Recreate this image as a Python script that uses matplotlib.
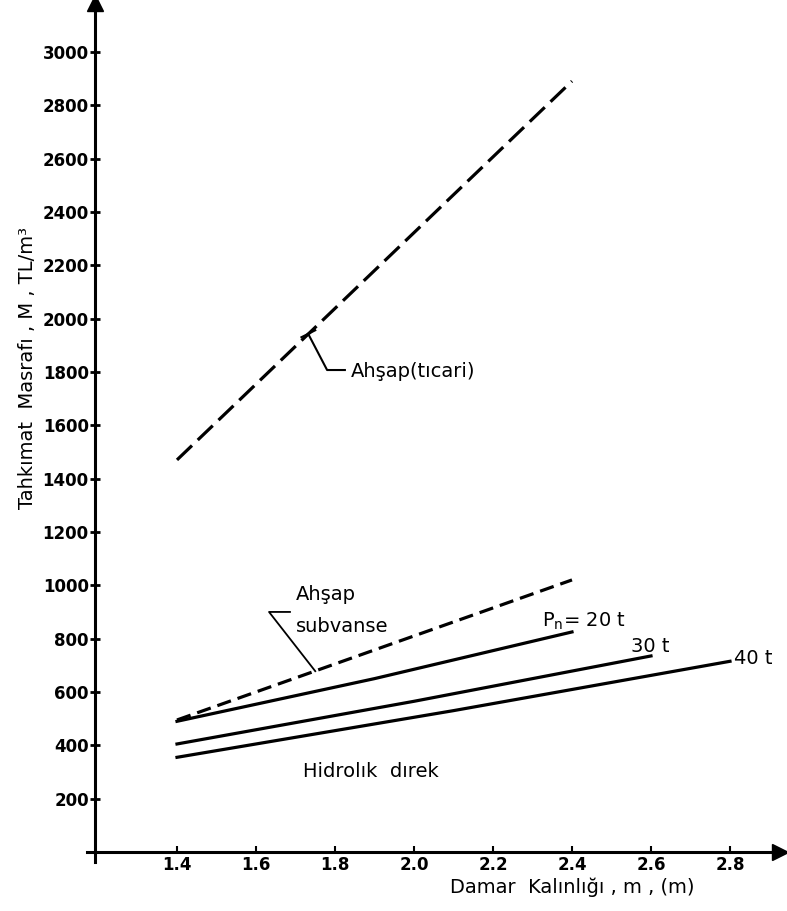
import matplotlib.pyplot as plt

# values (damar kalinligi m vs tahkimat masrafi TL/m3)
x_ticari = [1.4, 2.4]
y_ticari = [1470, 2890]
x_subvanse = [1.4, 2.4]
y_subvanse = [495, 1020]
x_20t = [1.4, 1.9, 2.4]
y_20t = [490, 650, 825]
x_30t = [1.4, 2.0, 2.6]
y_30t = [405, 565, 735]
x_40t = [1.4, 2.1, 2.8]
y_40t = [355, 530, 715]

xticks = [1.4, 1.6, 1.8, 2.0, 2.2, 2.4, 2.6, 2.8]
xticklabels = ["1.4", "1.6", "1.8", "2.0", "2.2", "2.4", "2.6", "2.8"]
yticks = list(range(200, 3001, 200))

plt.rcParams['font.family'] = ['DejaVu Sans']
W, H = 787, 911
fig = plt.figure(figsize=(W / 100, H / 100), dpi=100)
ax = fig.add_axes([95 / W, 59 / H, (780 - 95) / W, (852 - 3) / H])
ax.set_xlim(1.1924, 2.9266)
ax.set_ylim(0, 3183)

for s in ['top', 'right']:
    ax.spines[s].set_visible(False)
for s in ['left', 'bottom']:
    ax.spines[s].set_linewidth(2.2)

# arrow heads and the little cross at the origin
ax.plot([1], [0], marker='>', ms=11, color='k', transform=ax.transAxes, clip_on=False)
ax.plot([0], [1], marker='^', ms=11, color='k', transform=ax.transAxes, clip_on=False)
ax.plot([-0.012, 0], [0, 0], color='k', lw=2.2, transform=ax.transAxes, clip_on=False)
ax.plot([0, 0], [-0.012, 0], color='k', lw=2.2, transform=ax.transAxes, clip_on=False)

ax.set_xticks(xticks)
ax.set_xticklabels(xticklabels, fontsize=12, weight='bold')
ax.set_yticks(yticks)
ax.set_yticklabels([str(v) for v in yticks], fontsize=12, weight='bold')
ax.tick_params(axis='y', direction='inout', length=7, width=2, pad=1)
ax.tick_params(axis='x', direction='in', length=4, width=1.5, pad=3)

lw = 2.3
ax.plot(x_ticari, y_ticari, color='k', lw=lw, linestyle=(0, (6.5, 2.5)))
ax.plot(x_subvanse, y_subvanse, color='k', lw=lw, linestyle=(0, (4.5, 2.2)))
ax.plot(x_20t, y_20t, color='k', lw=lw)
ax.plot(x_30t, y_30t, color='k', lw=lw)
ax.plot(x_40t, y_40t, color='k', lw=lw)

fs = 14
# labels and leaders
ax.plot([1.732, 1.78, 1.825], [1943, 1807, 1807], color='k', lw=1.5)
ax.plot([1.715, 1.75], [1930, 1956], color='k', lw=1.5)
ax.text(1.84, 1800, "Ahşap(tıcari)", fontsize=fs, va='center', ha='left')

ax.plot([1.686, 1.633, 1.75], [900, 900, 678], color='k', lw=1.3)
ax.text(1.70, 964, "Ahşap", fontsize=fs, va='center', ha='left')
ax.text(1.70, 844, "subvanse", fontsize=fs, va='center', ha='left')

ax.text(2.325, 866, r"P$_\mathregular{n}$= 20 t", fontsize=fs, va='center', ha='left')
ax.text(2.55, 772, "30 t", fontsize=fs, va='center', ha='left')
ax.text(2.81, 727, "40 t", fontsize=fs, va='center', ha='left')
ax.text(1.72, 300, "Hidrolık  dırek", fontsize=fs, va='center', ha='left')

fig.text(572 / W, 1 - 887 / H, "Damar  Kalınlığı , m , (m)", fontsize=fs, ha='center', va='center')
fig.text(28 / W, 1 - 368 / H, "Tahkımat  Masrafı , M , TL/m³", fontsize=fs,
         rotation=90, ha='center', va='center')

fig.savefig("out.png", dpi=100)
